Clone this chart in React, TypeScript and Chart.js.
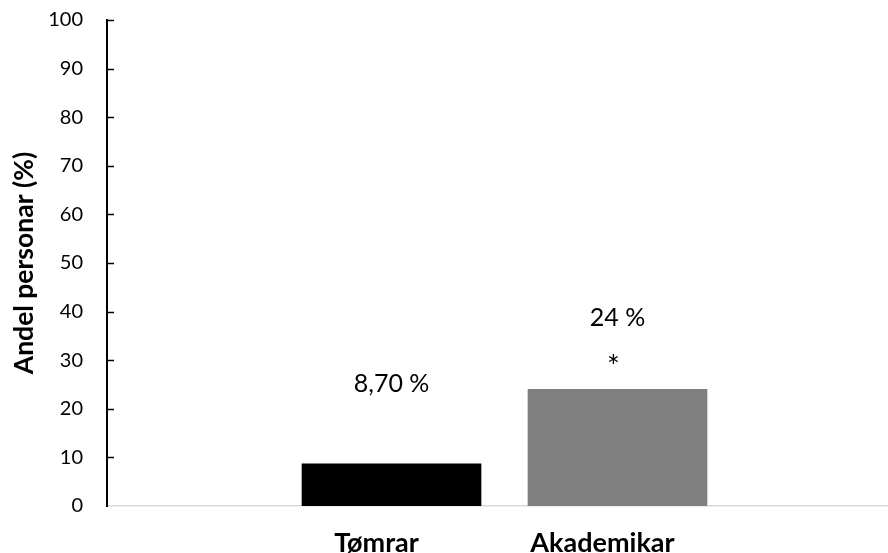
import React, { useEffect, useRef } from "react";
import { Chart, registerables } from "chart.js";

Chart.register(...registerables);

const categories = ["Tømrar", "Akademikar"];
const positions = [1, 2];
const values = [8.7, 24];
const valueLabels = ["8,70 %", "24 %"];
const markers = ["", "*"];
const barColors = ["#000000", "#808080"];
const yTicks = [0, 10, 20, 30, 40, 50, 60, 70, 80, 90, 100];

const FONT = "Lato";

const labelPlugin = {
  id: "valueLabels",
  afterDatasetsDraw(chart: any) {
    const ctx = chart.ctx;
    const meta = chart.getDatasetMeta(0);
    ctx.save();
    ctx.fillStyle = "#000";
    ctx.textAlign = "center";
    ctx.textBaseline = "middle";
    meta.data.forEach((bar: any, i: number) => {
      ctx.font = `25px ${FONT}`;
      const off = markers[i] ? 71 : 80;
      ctx.fillText(valueLabels[i], bar.x, bar.y - off);
      if (markers[i]) {
        ctx.font = `30px ${FONT}`;
        ctx.fillText(markers[i], bar.x - 4, bar.y - 22);
      }
    });
    ctx.restore();
  },
  afterDraw(chart: any) {
    const y = chart.scales.y;
    const ctx = chart.ctx;
    ctx.save();
    ctx.strokeStyle = "#000";
    ctx.lineWidth = 1.5;
    y.ticks.forEach((t: any) => {
      if (t.value === 0) return;
      const py = Math.round(y.getPixelForValue(t.value)) + 0.5;
      ctx.beginPath();
      ctx.moveTo(y.right, py);
      ctx.lineTo(y.right + 7, py);
      ctx.stroke();
    });
    ctx.restore();
  },
};

export default function App() {
  const ref = useRef<HTMLCanvasElement | null>(null);
  useEffect(() => {
    if (!ref.current) return;
    const chart = new Chart(ref.current, {
      type: "bar",
      data: {
        datasets: [
          {
            data: positions.map((x, i) => ({ x, y: values[i] })),
            backgroundColor: barColors,
            barThickness: 179,
          },
        ],
      },
      options: {
        animation: false,
        responsive: true,
        maintainAspectRatio: false,
        layout: { padding: { top: 20, right: 0, left: 0, bottom: 0 } },
        plugins: { legend: { display: false }, tooltip: { enabled: false } },
        scales: {
          x: {
            type: "linear",
            offset: false,
            min: -0.259,
            max: 3.197,
            grid: { display: false, drawTicks: false },
            border: { display: true, color: "#d9d9d9", width: 1.5 },
            afterBuildTicks: (s: any) => {
              s.ticks = positions.map((v) => ({ value: v }));
            },
            afterFit: (s: any) => {
              s.height = 47;
              s.paddingLeft = 0;
              s.paddingRight = 0;
              s.paddingTop = 0;
              s.paddingBottom = 0;
            },
            ticks: {
              autoSkip: false,
              maxRotation: 0,
              padding: 21,
              labelOffset: -15,
              color: "#000",
              font: { family: FONT, size: 27, weight: "bold" },
              callback: (v: any) => {
                const i = positions.indexOf(Number(v));
                return i >= 0 ? categories[i] : "";
              },
            },
          },
          y: {
            min: 0,
            max: 100,
            grid: { display: false, drawTicks: false },
            border: { display: true, color: "#000", width: 2 },
            afterBuildTicks: (s: any) => {
              s.ticks = yTicks.map((v) => ({ value: v }));
            },
            afterFit: (s: any) => {
              s.width = 107;
              s.paddingTop = 0;
              s.paddingBottom = 0;
              s.paddingLeft = 0;
              s.paddingRight = 0;
            },
            title: {
              display: true,
              text: "Andel personar (%)",
              color: "#000",
              font: { family: FONT, size: 26.5, weight: "bold" },
              padding: { top: 9, bottom: 0 },
            },
            ticks: {
              padding: 24,
              color: "#000",
              font: { family: FONT, size: 20 },
            },
          },
        },
      },
      plugins: [labelPlugin],
    });
    return () => chart.destroy();
  }, []);
  return (
    <div style={{ position: "fixed", left: 0, top: 0, width: 888, height: 553, background: "#fff" }}>
      <canvas ref={ref} />
    </div>
  );
}
